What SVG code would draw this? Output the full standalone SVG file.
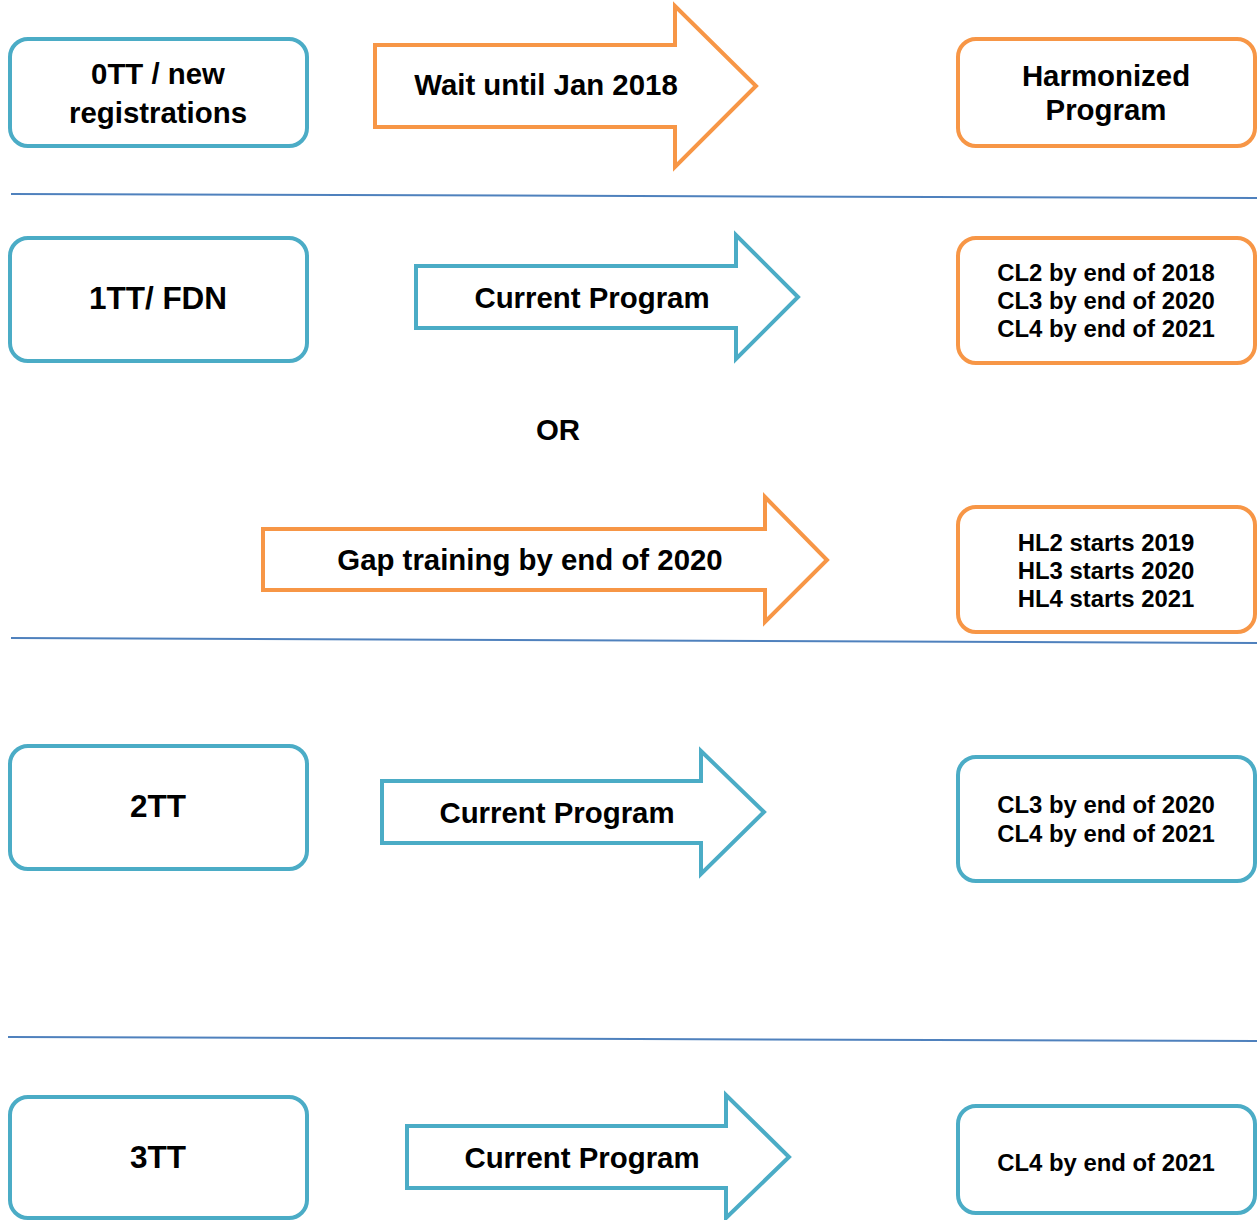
<svg xmlns="http://www.w3.org/2000/svg" width="1257" height="1220" viewBox="0 0 1257 1220">
<style>
.bg{fill:#ffffff}
.blue{fill:#ffffff;stroke:#4BACC6;stroke-width:4}
.orange{fill:#ffffff;stroke:#F79646;stroke-width:4}
.sep{stroke:#4F81BD;stroke-width:2;fill:none}
text{font-family:"Liberation Sans",Arial,sans-serif;font-weight:bold;fill:#000;text-anchor:middle}
.big{font-size:29.4px}
.label{font-size:31.5px}
.small{font-size:23.9px}
</style>
<rect class="bg" x="0" y="0" width="1257" height="1220"/>
<g id="separators">
<line class="sep" x1="11" y1="194" x2="1257" y2="198"/>
<line class="sep" x1="11" y1="638" x2="1257" y2="643"/>
<line class="sep" x1="8" y1="1037" x2="1257" y2="1041"/>
</g>
<g id="connectors">
<g id="arrow-wait">
<polygon class="orange" points="375,45 675,45 675,6 756,86 675,167 675,127 375,127"/>
<text class="big" x="546" y="95">Wait until Jan 2018</text>
</g>
<g id="arrow-current-1">
<polygon class="blue" points="416,266 736,266 736,235 798,297 736,359 736,328 416,328"/>
<text class="big" x="592" y="308">Current Program</text>
</g>
<g id="arrow-gap">
<polygon class="orange" points="263,529 765,529 765,497 827,560 765,622 765,590 263,590"/>
<text class="big" x="530" y="570">Gap training by end of 2020</text>
</g>
<g id="arrow-current-2">
<polygon class="blue" points="382,781 701,781 701,751 764,812 701,874 701,843 382,843"/>
<text class="big" x="557" y="823">Current Program</text>
</g>
<g id="arrow-current-3">
<polygon class="blue" points="407,1126 726,1126 726,1095 789,1157 726,1218 726,1188 407,1188"/>
<text class="big" x="582" y="1168">Current Program</text>
</g>
</g>
<g id="node-0tt">
<rect class="blue" x="10" y="39" width="297" height="107" rx="18"/>
<text class="big" x="158" y="84">0TT / new</text>
<text class="big" x="158" y="123">registrations</text>
</g>
<g id="node-harmonized">
<rect class="orange" x="958" y="39" width="297" height="107" rx="18"/>
<text class="big" x="1106" y="86">Harmonized</text>
<text class="big" x="1106" y="120">Program</text>
</g>
<g id="node-1tt">
<rect class="blue" x="10" y="238" width="297" height="123" rx="18"/>
<text class="label" x="158" y="309">1TT/ FDN</text>
</g>
<g id="node-cl-1tt">
<rect class="orange" x="958" y="238" width="297" height="125" rx="18"/>
<text class="small" x="1106" y="281">CL2 by end of 2018</text>
<text class="small" x="1106" y="309">CL3 by end of 2020</text>
<text class="small" x="1106" y="337">CL4 by end of 2021</text>
</g>
<g id="label-or">
<text class="big" x="558" y="440">OR</text>
</g>
<g id="node-hl">
<rect class="orange" x="958" y="507" width="297" height="125" rx="18"/>
<text class="small" x="1106" y="551">HL2 starts 2019</text>
<text class="small" x="1106" y="579">HL3 starts 2020</text>
<text class="small" x="1106" y="607">HL4 starts 2021</text>
</g>
<g id="node-2tt">
<rect class="blue" x="10" y="746" width="297" height="123" rx="18"/>
<text class="label" x="158" y="817">2TT</text>
</g>
<g id="node-cl-2tt">
<rect class="blue" x="958" y="757" width="297" height="124" rx="18"/>
<text class="small" x="1106" y="813">CL3 by end of 2020</text>
<text class="small" x="1106" y="842">CL4 by end of 2021</text>
</g>
<g id="node-3tt">
<rect class="blue" x="10" y="1097" width="297" height="121" rx="18"/>
<text class="label" x="158" y="1168">3TT</text>
</g>
<g id="node-cl-3tt">
<rect class="blue" x="958" y="1106" width="297" height="107" rx="18"/>
<text class="small" x="1106" y="1171">CL4 by end of 2021</text>
</g>
</svg>
